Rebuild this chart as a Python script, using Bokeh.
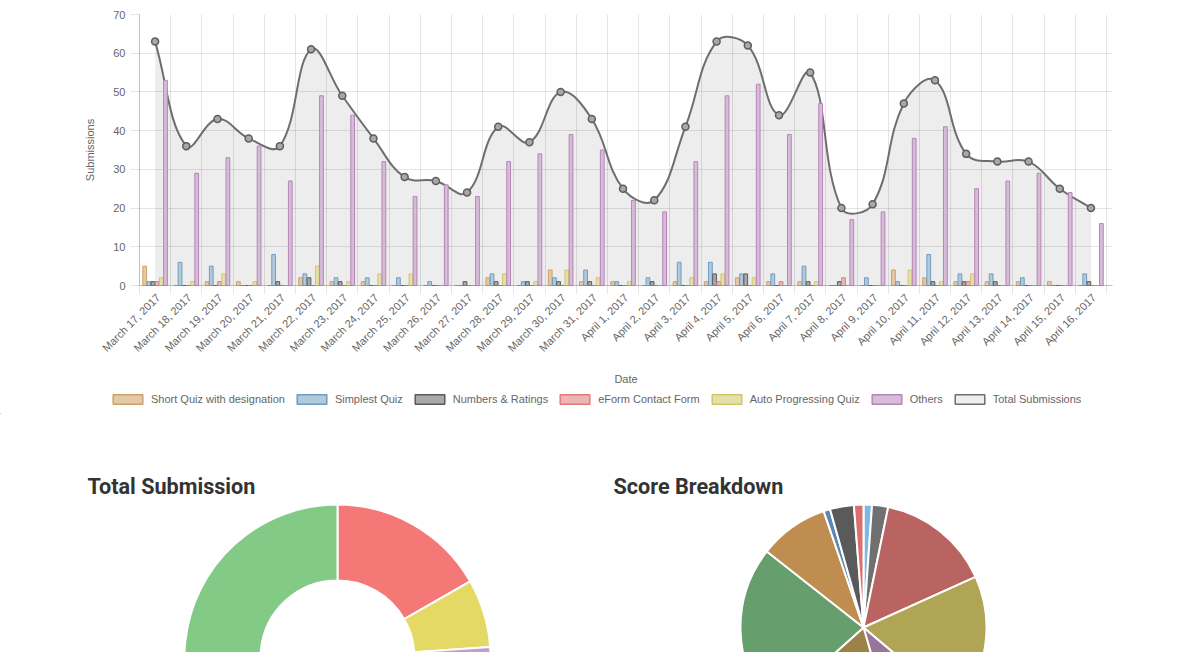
import numpy as np
from bokeh.plotting import figure
from bokeh.models import Range1d, FixedTicker, Legend, LegendItem
from bokeh.embed import file_html
from bokeh.resources import INLINE
from bokeh.core.properties import value

# ---------------- data ----------------
dates = ["March 17, 2017", "March 18, 2017", "March 19, 2017", "March 20, 2017",
         "March 21, 2017", "March 22, 2017", "March 23, 2017", "March 24, 2017",
         "March 25, 2017", "March 26, 2017", "March 27, 2017", "March 28, 2017",
         "March 29, 2017", "March 30, 2017", "March 31, 2017", "April 1, 2017",
         "April 2, 2017", "April 3, 2017", "April 4, 2017", "April 5, 2017",
         "April 6, 2017", "April 7, 2017", "April 8, 2017", "April 9, 2017",
         "April 10, 2017", "April 11, 2017", "April 12, 2017", "April 13, 2017",
         "April 14, 2017", "April 15, 2017", "April 16, 2017"]
short_quiz = [5, 0, 1, 1, 0, 2, 1, 1, 0, 0, 0, 2, 0, 4, 1, 1, 0, 1, 1, 2, 1, 1, 0, 0, 4, 2, 1, 1, 1, 1, 0]
simplest_quiz = [1, 6, 5, 0, 8, 3, 2, 2, 2, 1, 0, 3, 1, 2, 4, 1, 2, 6, 6, 3, 3, 5, 0, 2, 1, 8, 3, 3, 2, 0, 3]
numbers_ratings = [1, 0, 0, 0, 1, 2, 1, 0, 0, 0, 1, 1, 1, 1, 1, 0, 1, 0, 3, 3, 0, 1, 1, 0, 0, 1, 1, 1, 0, 0, 1]
eform_contact = [1, 0, 1, 0, 0, 0, 0, 0, 0, 0, 0, 0, 0, 0, 0, 0, 0, 0, 1, 0, 1, 0, 2, 0, 0, 0, 1, 0, 0, 0, 0]
auto_progressing = [2, 1, 3, 1, 0, 5, 1, 3, 3, 0, 0, 3, 1, 4, 2, 1, 0, 2, 3, 2, 0, 1, 0, 0, 4, 1, 3, 0, 0, 0, 0]
others = [53, 29, 33, 36, 27, 49, 44, 32, 23, 26, 23, 32, 34, 39, 35, 22, 19, 32, 49, 52, 39, 47, 17, 19, 38, 41, 25, 27, 29, 24, 16]
total_submissions = [63, 36, 43, 38, 36, 61, 49, 38, 28, 27, 24, 41, 37, 50, 43, 25, 22, 41, 63, 62, 44, 55, 20, 21, 47, 53, 34, 32, 32, 25, 20]

series_names = ["Short Quiz with designation", "Simplest Quiz", "Numbers & Ratings",
                "eForm Contact Form", "Auto Progressing Quiz", "Others"]
series_values = [short_quiz, simplest_quiz, numbers_ratings, eform_contact, auto_progressing, others]
series_line = ["#D0A064", "#6F9CC3", "#5A5A5A", "#E07B7B", "#D2C564", "#B585B8"]
series_fill = ["#E2C9A7", "#B2C8DB", "#A9A9A9", "#EDB5B5", "#E5E0AA", "#D6BCD7"]
total_name = "Total Submissions"
total_line = "#6E6E6E"
total_fill = "#EEEEEE"

donut_labels = ["Red", "Yellow", "Purple", "Green"]
donut_values = [167, 72, 61, 700]
donut_colors = ["#F47876", "#E4D965", "#C59BCC", "#82CA86"]

score_labels = ["s1", "s2", "s3", "s4", "s5", "s6", "s7", "s8", "s9", "s10", "s11"]
score_values = [4, 7.6, 54.1, 64.5, 33.7, 64.3, 80, 32.9, 3.1, 11.3, 4.5]
score_colors = ["#7DB7E3", "#707070", "#B96461", "#AFA555", "#997599", "#9A8248",
                "#679E6D", "#C08D50", "#5B87B1", "#5A5A5A", "#DA6F6D"]

FONT = "Liberation Sans"
n = len(dates)
centers = [i + 0.5 for i in range(n)]

# ---------------- top chart ----------------
TOP_H = 390
p = figure(width=1200, height=TOP_H, output_backend="svg", toolbar_location=None,
           x_range=Range1d(0, 31.19), y_range=Range1d(0, 70),
           min_border_left=139, min_border_right=88, min_border_top=14,
           min_border_bottom=TOP_H - 285)
p.outline_line_color = None
p.background_fill_color = "white"

# smooth total line (Chart.js style tension 0.4 bezier)
sx, sy = 31.2, 271.0 / 70.0
tension = 0.4
px = np.array(centers) * sx
py = np.array(total_submissions, dtype=float) * sy
prev_c, next_c = [], []
for i in range(n):
    a = i - 1 if i > 0 else i
    b = i + 1 if i < n - 1 else i
    d01 = np.hypot(px[i] - px[a], py[i] - py[a])
    d12 = np.hypot(px[b] - px[i], py[b] - py[i])
    s = d01 + d12
    s01 = d01 / s if s else 0
    s12 = d12 / s if s else 0
    fa, fb = tension * s01, tension * s12
    prev_c.append((px[i] - fa * (px[b] - px[a]), py[i] - fa * (py[b] - py[a])))
    next_c.append((px[i] + fb * (px[b] - px[a]), py[i] + fb * (py[b] - py[a])))
prev_c = np.array(prev_c)
next_c = np.array(next_c)
prev_c[:, 1] = np.clip(prev_c[:, 1], 0, 70 * sy)
next_c[:, 1] = np.clip(next_c[:, 1], 0, 70 * sy)

x0 = px[:-1] / sx; y0 = py[:-1] / sy
x1 = px[1:] / sx; y1 = py[1:] / sy
cx0 = next_c[:-1, 0] / sx; cy0 = next_c[:-1, 1] / sy
cx1 = prev_c[1:, 0] / sx; cy1 = prev_c[1:, 1] / sy

tt = np.linspace(0, 1, 25)
ax, ay = [], []
for k in range(n - 1):
    bx = ((1 - tt) ** 3) * x0[k] + 3 * ((1 - tt) ** 2) * tt * cx0[k] + 3 * (1 - tt) * tt ** 2 * cx1[k] + tt ** 3 * x1[k]
    by = ((1 - tt) ** 3) * y0[k] + 3 * ((1 - tt) ** 2) * tt * cy0[k] + 3 * (1 - tt) * tt ** 2 * cy1[k] + tt ** 3 * y1[k]
    ax.extend(bx.tolist()); ay.extend(by.tolist())

p.varea(x=ax, y1=[0] * len(ax), y2=ay, fill_color="black", fill_alpha=0.07)
p.bezier(x0=x0, y0=y0, x1=x1, y1=y1, cx0=cx0, cy0=cy0, cx1=cx1, cy1=cy1,
         line_color=total_line, line_width=2)

# bars
slot = 0.8 / 6
for k, (name, vals) in enumerate(zip(series_names, series_values)):
    off = -0.4 + slot * (k + 0.5)
    p.vbar(x=[c + off for c in centers], top=vals, bottom=0, width=slot * 0.9,
           fill_color=series_fill[k], line_color=series_line[k], line_width=1)

p.scatter(x=centers, y=total_submissions, size=7, fill_color="#A8A8A8",
          line_color="#5E5E5E", line_width=1.5)

# axes
label_pos = [c + 0.1 for c in centers]
p.xaxis.ticker = FixedTicker(ticks=label_pos, minor_ticks=list(range(0, n + 1)))
p.xaxis.major_label_overrides = {c: d for c, d in zip(label_pos, dates)}
p.xaxis.major_label_orientation = np.pi / 4
p.xaxis.major_tick_line_color = None
p.xaxis.minor_tick_line_color = "black"
p.xaxis.minor_tick_line_alpha = 0.1
p.xaxis.minor_tick_out = 8
p.xaxis.minor_tick_in = 0
p.xaxis.major_label_standoff = 2
p.xaxis.axis_label = "Date"
p.xaxis.axis_label_standoff = 12

p.yaxis.ticker = FixedTicker(ticks=list(range(0, 71, 10)))
p.yaxis.minor_tick_line_color = None
p.yaxis.major_tick_line_color = "black"
p.yaxis.major_tick_line_alpha = 0.1
p.yaxis.major_tick_out = 9
p.yaxis.major_tick_in = 0
p.yaxis.major_label_standoff = 5
p.yaxis.axis_label = "Submissions"
p.yaxis.axis_label_standoff = 14

for ax_ in (p.xaxis, p.yaxis):
    ax_.axis_line_color = "black"
    ax_.axis_line_alpha = 0.25
    ax_.major_label_text_font = FONT
    ax_.major_label_text_font_size = "11px"
    ax_.major_label_text_color = "#666666"
    ax_.axis_label_text_font = FONT
    ax_.axis_label_text_font_size = "11px"
    ax_.axis_label_text_color = "#666666"
    ax_.axis_label_text_font_style = "normal"

p.xgrid.ticker = FixedTicker(ticks=list(range(0, n + 1)))
p.ygrid.ticker = FixedTicker(ticks=list(range(0, 71, 10)))
for g in (p.xgrid, p.ygrid):
    g.grid_line_color = "black"
    g.grid_line_alpha = 0.1

# ---------------- legend strip (separate root) ----------------
LEG_H = 24
lg = figure(width=1200, height=LEG_H, output_backend="svg", toolbar_location=None,
            x_range=Range1d(0, 1200), y_range=Range1d(0, LEG_H),
            x_axis_location=None, y_axis_location=None, min_border=0)
lg.grid.visible = False
lg.outline_line_color = None
items = []
for nm, fc, lc in zip(series_names + [total_name], series_fill + [total_fill], series_line + [total_line]):
    # legend-only glyph: zero-size, off the visible range
    r = lg.vbar(x=[-100], top=[-60], bottom=-60, width=0, fill_color=fc, line_color=lc, line_width=1.5)
    items.append(LegendItem(label=nm, renderers=[r]))
legend = Legend(items=items, orientation="horizontal", location=(109, 9),
                glyph_width=37, glyph_height=12, label_standoff=5, spacing=8,
                padding=0, margin=0, label_height=12,
                label_text_font=FONT, label_text_font_size="11px", label_text_color="#666666",
                border_line_alpha=0, background_fill_alpha=0)
lg.add_layout(legend, "center")

# ---------------- bottom: pies (separate root, full-width frame) ----------------
BOT_TOP = TOP_H + LEG_H
BOT_H = 652 - BOT_TOP
q = figure(width=1200, height=BOT_H, output_backend="svg", toolbar_location=None,
           x_range=Range1d(0, 1200), y_range=Range1d(0, BOT_H),
           x_axis_location=None, y_axis_location=None, min_border=0)
q.grid.visible = False
q.outline_line_color = None


def angles(vals):
    tot = float(sum(vals))
    cum = np.cumsum([0.0] + list(vals)) / tot * 2 * np.pi
    return (np.pi / 2 - cum[1:]).tolist(), (np.pi / 2 - cum[:-1]).tolist()


s_a, e_a = angles(donut_values)
q.annular_wedge(x=337, y=652 - 657, inner_radius=77, outer_radius=153,
                start_angle=s_a, end_angle=e_a, fill_color=donut_colors,
                line_color="white", line_width=2)

s_b, e_b = angles(score_values)
q.wedge(x=863, y=652 - 627, radius=123, start_angle=s_b, end_angle=e_b,
        fill_color=score_colors, line_color="white", line_width=2)

q.text(x=[87, 613], y=[652 - 486, 652 - 486], text=["Total Submission", "Score Breakdown"],
       text_font=value("Roboto"), text_font_style="bold", text_font_size="21.6px",
       text_color="#333333", text_baseline="alphabetic", text_align="left")

open("out.html", "w").write(file_html([p, lg, q], INLINE))
